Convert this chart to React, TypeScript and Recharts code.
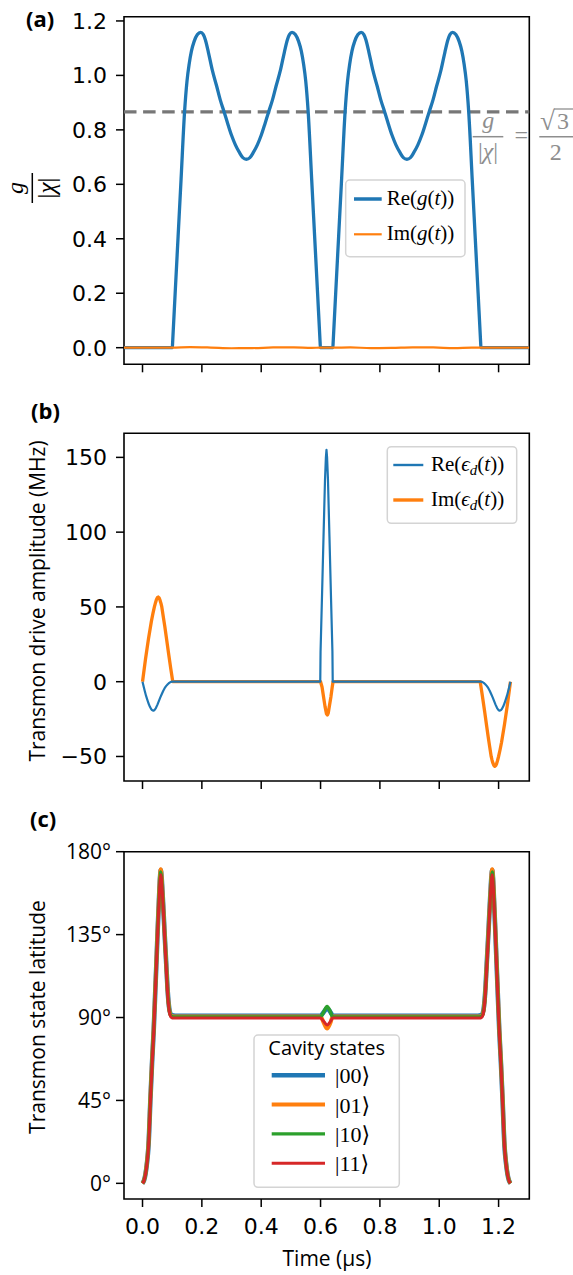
import React from 'react';
import { LineChart, Line, XAxis, YAxis, ReferenceLine, ReferenceArea } from 'recharts';

const BLUE = '#1f77b4';
const ORANGE = '#ff7f0e';
const GREEN = '#2ca02c';
const RED = '#d62728';
const GREY = '#8e8e8e';

const TICK_FONT = 'DejaVu Sans, sans-serif';
const LABEL_FONT = 'Open Sans, sans-serif';
const MATH_FONT = 'Liberation Serif, DejaVu Serif, serif';

const timeDomain: [number, number] = [-0.0624, 1.3035];
const timeTicks = [0, 0.2, 0.4, 0.6, 0.8, 1.0, 1.2];

// (a) coupling g/|chi|
const couplingDomain: [number, number] = [-0.061, 1.2156];
const couplingTicks = [0, 0.2, 0.4, 0.6, 0.8, 1.0, 1.2];
const couplingThreshold = 0.866;
const reGTime = [
  -0.0624, 0.1005, 0.1015, 0.11, 0.12, 0.13, 0.1417, 0.15, 0.157, 0.165, 0.174, 0.185, 0.196,
  0.205, 0.212, 0.222, 0.235, 0.25, 0.262, 0.275, 0.288, 0.3, 0.313, 0.3265, 0.338, 0.35,
  0.362, 0.3735, 0.387, 0.4, 0.412, 0.425, 0.438, 0.45, 0.465, 0.478, 0.488, 0.495, 0.504,
  0.515, 0.526, 0.535, 0.543, 0.55, 0.5583, 0.57, 0.58, 0.59, 0.5985, 0.5995,
  0.6415, 0.6425, 0.651, 0.661, 0.671, 0.6827, 0.691, 0.698, 0.706, 0.715, 0.726, 0.737,
  0.746, 0.753, 0.763, 0.776, 0.791, 0.803, 0.816, 0.829, 0.841, 0.854, 0.8675, 0.879, 0.891,
  0.903, 0.9145, 0.928, 0.941, 0.953, 0.966, 0.979, 0.991, 1.006, 1.019, 1.029, 1.036, 1.045,
  1.056, 1.067, 1.076, 1.084, 1.091, 1.0993, 1.111, 1.121, 1.131, 1.1395, 1.1405, 1.3035,
];
const reGValue = [
  0, 0, 0.02, 0.2, 0.41, 0.62, 0.866, 0.98, 1.04, 1.09, 1.125, 1.15, 1.158,
  1.15, 1.13, 1.085, 1.02, 0.96, 0.91, 0.866, 0.82, 0.78, 0.745, 0.717, 0.698, 0.692,
  0.698, 0.717, 0.745, 0.78, 0.82, 0.866, 0.91, 0.96, 1.02, 1.085, 1.13, 1.15, 1.158,
  1.15, 1.125, 1.09, 1.04, 0.98, 0.866, 0.62, 0.41, 0.2, 0.02, 0,
  0, 0.02, 0.2, 0.41, 0.62, 0.866, 0.98, 1.04, 1.09, 1.125, 1.15, 1.158,
  1.15, 1.13, 1.085, 1.02, 0.96, 0.91, 0.866, 0.82, 0.78, 0.745, 0.717, 0.698, 0.692,
  0.698, 0.717, 0.745, 0.78, 0.82, 0.866, 0.91, 0.96, 1.02, 1.085, 1.13, 1.15, 1.158,
  1.15, 1.125, 1.09, 1.04, 0.98, 0.866, 0.62, 0.41, 0.2, 0.02, 0, 0,
];
const imGTime = [-0.0624, 0.1, 0.16, 0.23, 0.3, 0.37, 0.44, 0.51, 0.57, 0.6, 0.64, 0.7, 0.77, 0.84, 0.91, 0.98, 1.05, 1.11, 1.14, 1.3035];
const imGValue = [0, 0, 0.002, 0.0005, -0.002, -0.0015, 0.0008, 0.0015, -0.0005, 0, 0, 0.0012, -0.0015, -0.001, 0.001, 0.0008, -0.0015, 0.0005, 0, 0];

// (b) transmon drive amplitude (MHz)
const driveDomain: [number, number] = [-66.4, 166.1];
const driveTicks = [-50, 0, 50, 100, 150];
const reDriveTime = [
  0, 0.004, 0.008, 0.012, 0.016, 0.02, 0.025, 0.029, 0.032, 0.0365, 0.04, 0.045, 0.05, 0.055, 0.06, 0.065, 0.07, 0.075, 0.08, 0.085, 0.09, 0.094, 0.098,
  0.599, 0.6, 0.605, 0.61, 0.615, 0.618, 0.62, 0.622, 0.625, 0.63, 0.635, 0.64, 0.641,
  1.142, 1.146, 1.15, 1.155, 1.16, 1.165, 1.17, 1.175, 1.18, 1.185, 1.19, 1.195, 1.2, 1.2035, 1.208, 1.211, 1.215, 1.22, 1.224, 1.228, 1.232, 1.236, 1.24,
];
const reDriveValue = [
  0, -3.4, -6.5, -9.5, -12, -14.4, -16.8, -18.3, -19, -19.4, -19.1, -17.6, -15.5, -13, -10.5, -8.2, -6, -4.2, -2.8, -1.7, -0.8, -0.3, 0,
  0, 20, 58, 97, 135, 150, 155, 150, 135, 97, 58, 20, 0,
  0, -0.3, -0.8, -1.7, -2.8, -4.2, -6, -8.2, -10.5, -13, -15.5, -17.6, -19.1, -19.4, -19, -18.3, -16.8, -14.4, -12, -9.5, -6.5, -3.4, 0,
];
const imDriveTime = [
  0, 0.01, 0.02, 0.03, 0.035, 0.04, 0.044, 0.047, 0.05, 0.053, 0.056, 0.059, 0.062, 0.065, 0.07, 0.075, 0.08, 0.087, 0.095, 0.102,
  0.6, 0.605, 0.61, 0.615, 0.62, 0.623, 0.626, 0.63, 0.635, 0.639, 0.642,
  1.138, 1.145, 1.153, 1.16, 1.165, 1.17, 1.175, 1.178, 1.181, 1.184, 1.187, 1.19, 1.193, 1.196, 1.2, 1.205, 1.21, 1.22, 1.23, 1.24,
];
const imDriveValue = [
  0, 15, 28.5, 40.5, 45.5, 50, 53, 55, 56.2, 56.6, 56, 54.5, 52.5, 50, 43.5, 37, 30, 20, 9, 0,
  0, -3.5, -10, -16.5, -21.5, -22.3, -21, -16, -10, -4, 0,
  0, -9, -20, -30, -37, -43.5, -50, -52.5, -54.5, -56, -56.6, -56.2, -55, -53, -50, -45.5, -40.5, -28.5, -15, 0,
];

// (c) transmon state latitude (degrees), one series per cavity state
const latitudeDomain: [number, number] = [-8.5, 180];
const latitudeTicks = [0, 45, 90, 135, 180];
const latitudeTime = [
  0, 0.005, 0.01, 0.015, 0.02, 0.027, 0.032, 0.0377, 0.042, 0.0467, 0.051, 0.0557, 0.059, 0.0614,
  0.064, 0.067, 0.07, 0.075, 0.08, 0.085, 0.09, 0.095, 0.1, 0.11,
  0.6, 0.611, 0.622, 0.633, 0.641,
  1.13, 1.14, 1.145, 1.15, 1.155, 1.16, 1.165, 1.17, 1.173, 1.176, 1.1786,
  1.181, 1.1843, 1.189, 1.1933, 1.198, 1.2023, 1.208, 1.213, 1.22, 1.225, 1.23, 1.235, 1.24,
];
const latitude00 = [
  0, 1.5, 5, 11, 20, 47, 65, 83, 100, 119, 137, 155, 166, 170,
  167, 159, 150, 134, 119, 104, 95, 91.8, 91.2, 91,
  91, 93, 95, 93, 91,
  91, 91.2, 91.8, 95, 104, 119, 134, 150, 159, 167, 170,
  166, 155, 137, 119, 100, 83, 65, 47, 20, 11, 5, 1.5, 0,
];
const latitude01 = [
  0, 1.6, 5.2, 11.5, 21, 48, 66, 84, 101, 120, 138, 156, 167, 170.5,
  167.5, 159, 150, 134, 118.5, 103.5, 94.5, 91.3, 90.7, 90.5,
  90.5, 87, 84, 87, 90.5,
  90.5, 90.7, 91.3, 94.5, 103.5, 118.5, 134, 150, 159, 167.5, 170.5,
  167, 156, 138, 120, 101, 84, 66, 48, 21, 11.5, 5.2, 1.6, 0,
];
const latitude10 = [
  0, 1.5, 5, 11, 20.5, 47.5, 65.5, 83.5, 100.5, 119.5, 137.5, 155, 165.5, 169,
  166, 158.5, 149.5, 133.5, 118, 103, 94.2, 91, 90.4, 90.3,
  90.3, 93.2, 96, 93.2, 90.3,
  90.3, 90.4, 91, 94.2, 103, 118, 133.5, 149.5, 158.5, 166, 169,
  165.5, 155, 137.5, 119.5, 100.5, 83.5, 65.5, 47.5, 20.5, 11, 5, 1.5, 0,
];
const latitude11 = [
  0, 1.4, 4.8, 10.5, 19.5, 46, 64, 82, 99, 118, 136, 153.5, 164, 167.5,
  165, 157.5, 148.5, 132.5, 117, 102, 93.5, 90.4, 89.8, 89.7,
  89.7, 87.8, 86, 87.8, 89.7,
  89.7, 89.8, 90.4, 93.5, 102, 117, 132.5, 148.5, 157.5, 165, 167.5,
  164, 153.5, 136, 118, 99, 82, 64, 46, 19.5, 10.5, 4.8, 1.4, 0,
];
const cavityStates = ['00', '01', '10', '11'];
const cavityColors = [BLUE, ORANGE, GREEN, RED];
const cavityWidths = [4.6, 4, 3.4, 3];
const cavityValues = [latitude00, latitude01, latitude10, latitude11];

const zip = (ts: number[], vs: number[]) => ts.map((t, i) => ({ t, v: vs[i] }));

// matplotlib-style outward ticks drawn by the axis tick renderer
const leftTick = (format: (v: number) => string, font: string, size: number, gap: number) =>
  (p: any) => (
    <g>
      <line x1={p.x - 8} x2={p.x} y1={p.y} y2={p.y} stroke="#000" strokeWidth={1.5} />
      <text x={p.x - 8 - gap} y={p.y} dy="0.36em" textAnchor="end" fontFamily={font} fontSize={size} fill="#000">
        {format(p.payload.value)}
      </text>
    </g>
  );

const bottomTick = (withLabel: boolean) => (p: any) => (
  <g>
    <line x1={p.x} x2={p.x} y1={p.y} y2={p.y + 8} stroke="#000" strokeWidth={1.5} />
    {withLabel && (
      <text x={p.x} y={p.y + 35} textAnchor="middle" fontFamily={TICK_FONT} fontSize={22} fill="#000">
        {p.payload.value.toFixed(1)}
      </text>
    )}
  </g>
);

const fixed1 = (v: number) => v.toFixed(1);
const signed = (v: number) => (v < 0 ? '\u2212' + Math.abs(v) : String(v));
const degrees = (v: number) => v + '\u00b0';

export default function App() {
  return (
    <div style={{ position: 'absolute', left: 0, top: 0, width: 573, height: 1275, background: '#fff' }}>
      <div style={{ position: 'absolute', left: 0, top: 0 }}>
        <LineChart width={573} height={400} margin={{ top: 16.7, right: 43.7, bottom: 0, left: 0 }}>
          <XAxis type="number" dataKey="t" domain={timeDomain} ticks={timeTicks} allowDataOverflow interval={0}
            height={35.7} axisLine={false} tickLine={false} tickSize={0} tickMargin={0} tick={bottomTick(false)} />
          <YAxis type="number" domain={couplingDomain} ticks={couplingTicks} allowDataOverflow interval={0}
            width={124} axisLine={false} tickLine={false} tickSize={0} tickMargin={0}
            tick={leftTick(fixed1, TICK_FONT, 22, 9)} />
          <ReferenceLine y={couplingThreshold} stroke="#777" strokeWidth={3.2} strokeDasharray="12.5 6.6" />
          <Line data={zip(reGTime, reGValue)} dataKey="v" type="monotone" stroke={BLUE} strokeWidth={3.3}
            dot={false} activeDot={false} isAnimationActive={false} />
          <Line data={zip(imGTime, imGValue)} dataKey="v" type="monotone" stroke={ORANGE} strokeWidth={2.2}
            dot={false} activeDot={false} isAnimationActive={false} />
          <ReferenceArea x1={timeDomain[0]} x2={timeDomain[1]} y1={couplingDomain[0]} y2={couplingDomain[1]}
            fill="none" stroke="#000" strokeWidth={1.6} ifOverflow="visible" />
        </LineChart>
      </div>

      <div style={{ position: 'absolute', left: 0, top: 400 }}>
        <LineChart width={573} height={400} margin={{ top: 33.3, right: 43.7, bottom: 0, left: 0 }}>
          <XAxis type="number" dataKey="t" domain={timeDomain} ticks={timeTicks} allowDataOverflow interval={0}
            height={19} axisLine={false} tickLine={false} tickSize={0} tickMargin={0} tick={bottomTick(false)} />
          <YAxis type="number" domain={driveDomain} ticks={driveTicks} allowDataOverflow interval={0}
            width={124} axisLine={false} tickLine={false} tickSize={0} tickMargin={0}
            tick={leftTick(signed, TICK_FONT, 22, 9)} />
          <Line data={zip(imDriveTime, imDriveValue)} dataKey="v" type="linear" stroke={ORANGE} strokeWidth={3.3}
            strokeLinejoin="round" dot={false} activeDot={false} isAnimationActive={false} />
          <Line data={zip(reDriveTime, reDriveValue)} dataKey="v" type="linear" stroke={BLUE} strokeWidth={2.2}
            strokeLinejoin="round" dot={false} activeDot={false} isAnimationActive={false} />
          <ReferenceArea x1={timeDomain[0]} x2={timeDomain[1]} y1={driveDomain[0]} y2={driveDomain[1]}
            fill="none" stroke="#000" strokeWidth={1.6} ifOverflow="visible" />
        </LineChart>
      </div>

      <div style={{ position: 'absolute', left: 0, top: 800 }}>
        <LineChart width={573} height={475} margin={{ top: 51.7, right: 43.7, bottom: 0, left: 0 }}>
          <XAxis type="number" dataKey="t" domain={timeDomain} ticks={timeTicks} allowDataOverflow interval={0}
            height={76} axisLine={false} tickLine={false} tickSize={0} tickMargin={0} tick={bottomTick(true)} />
          <YAxis type="number" domain={latitudeDomain} ticks={latitudeTicks} allowDataOverflow interval={0}
            width={124} axisLine={false} tickLine={false} tickSize={0} tickMargin={0}
            tick={leftTick(degrees, LABEL_FONT, 21, 5)} />
          {cavityStates.map((s, i) => (
            <Line key={s} data={zip(latitudeTime, cavityValues[i])} dataKey="v" type="monotone"
              stroke={cavityColors[i]} strokeWidth={cavityWidths[i]} strokeLinejoin="round"
              dot={false} activeDot={false} isAnimationActive={false} />
          ))}
          <ReferenceArea x1={timeDomain[0]} x2={timeDomain[1]} y1={latitudeDomain[0]} y2={latitudeDomain[1]}
            fill="none" stroke="#000" strokeWidth={1.6} ifOverflow="visible" />
        </LineChart>
      </div>

      <svg width={573} height={1275} style={{ position: 'absolute', left: 0, top: 0, pointerEvents: 'none' }}>
        {/* panel letters */}
        <g fontFamily={LABEL_FONT} fontWeight="bold" fontSize={22} fill="#000">
          <text x={26} y={27}>(a)</text>
          <text x={31} y={419}>(b)</text>
          <text x={30} y={827}>(c)</text>
        </g>

        {/* axis titles */}
        <g transform="translate(33,188) rotate(-90)" fontFamily={MATH_FONT} fill="#000">
          <text x={0} y={-10.3} textAnchor="middle" fontStyle="italic" fontSize={24}>g</text>
          <line x1={-15} x2={15} y1={-0.7} y2={-0.7} stroke="#000" strokeWidth={1.5} />
          <text x={0} y={22.3} textAnchor="middle" fontSize={25}>|<tspan fontStyle="italic">χ</tspan>|</text>
        </g>
        <text transform="translate(45,601) rotate(-90)" textAnchor="middle" fontFamily={LABEL_FONT} fontSize={21} fill="#000">
          Transmon drive amplitude (MHz)
        </text>
        <text transform="translate(45,1017) rotate(-90)" textAnchor="middle" fontFamily={LABEL_FONT} fontSize={21} fill="#000">
          Transmon state latitude
        </text>
        <text x={327} y={1266} textAnchor="middle" fontFamily={LABEL_FONT} fontSize={21} fill="#000">Time (μs)</text>

        {/* threshold annotation */}
        <g fontFamily={MATH_FONT} fontSize={24} fill={GREY}>
          <text x={488.3} y={128} textAnchor="middle" fontStyle="italic">g</text>
          <line x1={472.7} x2={503.3} y1={136.7} y2={136.7} stroke={GREY} strokeWidth={1.5} />
          <text x={488} y={159.4} textAnchor="middle">|<tspan fontStyle="italic">χ</tspan>|</text>
          <text x={521.2} y={143} textAnchor="middle">=</text>
          <text x={540} y={130} fontSize={27}>√</text>
          <line x1={554} x2={575} y1={109} y2={109} stroke={GREY} strokeWidth={1.3} />
          <text x={557} y={128.5}>3</text>
          <line x1={539.3} x2={575} y1={136.7} y2={136.7} stroke={GREY} strokeWidth={1.5} />
          <text x={555.7} y={160} textAnchor="middle">2</text>
        </g>

        {/* legend (a) */}
        <rect x={345.7} y={180} width={119.3} height={76.7} rx={4} fill="#fff" fillOpacity={0.8} stroke="#d4d4d4" strokeWidth={1.5} />
        <line x1={354} x2={381.7} y1={199} y2={199} stroke={BLUE} strokeWidth={3.5} />
        <line x1={354} x2={381.7} y1={234.3} y2={234.3} stroke={ORANGE} strokeWidth={2.2} />
        <g fontFamily={MATH_FONT} fontSize={21} fill="#000">
          <text x={386.7} y={205}>Re(<tspan fontStyle="italic">g</tspan>(<tspan fontStyle="italic">t</tspan>))</text>
          <text x={386.7} y={240.3}>Im(<tspan fontStyle="italic">g</tspan>(<tspan fontStyle="italic">t</tspan>))</text>
        </g>

        {/* legend (b) */}
        <rect x={387.3} y={446.7} width={129.4} height={76.6} rx={4} fill="#fff" fillOpacity={0.8} stroke="#d4d4d4" strokeWidth={1.5} />
        <line x1={393.3} x2={423.3} y1={465} y2={465} stroke={BLUE} strokeWidth={2.4} />
        <line x1={393.3} x2={423.3} y1={500} y2={500} stroke={ORANGE} strokeWidth={3.4} />
        <g fontFamily={MATH_FONT} fontSize={21} fill="#000">
          <text x={431} y={470.5}>Re(<tspan fontStyle="italic">ϵ</tspan><tspan fontStyle="italic" fontSize={15} dy={4}>d</tspan><tspan dy={-4}>(</tspan><tspan fontStyle="italic">t</tspan>))</text>
          <text x={431} y={505.5}>Im(<tspan fontStyle="italic">ϵ</tspan><tspan fontStyle="italic" fontSize={15} dy={4}>d</tspan><tspan dy={-4}>(</tspan><tspan fontStyle="italic">t</tspan>))</text>
        </g>

        {/* legend (c) */}
        <rect x={254} y={1035} width={145.3} height={152.3} rx={4} fill="#fff" fillOpacity={0.8} stroke="#d4d4d4" strokeWidth={1.5} />
        <text x={326.7} y={1055} textAnchor="middle" fontFamily={LABEL_FONT} fontSize={20} fill="#000">Cavity states</text>
        {cavityStates.map((s, i) => {
          const y = 1075.3 + i * 29.3;
          return (
            <g key={s}>
              <line x1={271.7} x2={325} y1={y} y2={y} stroke={cavityColors[i]} strokeWidth={cavityWidths[i]} />
              <text x={335} y={y + 8} fontFamily={MATH_FONT} fontSize={22} fill="#000">|{s}⟩</text>
            </g>
          );
        })}
      </svg>
    </div>
  );
}
